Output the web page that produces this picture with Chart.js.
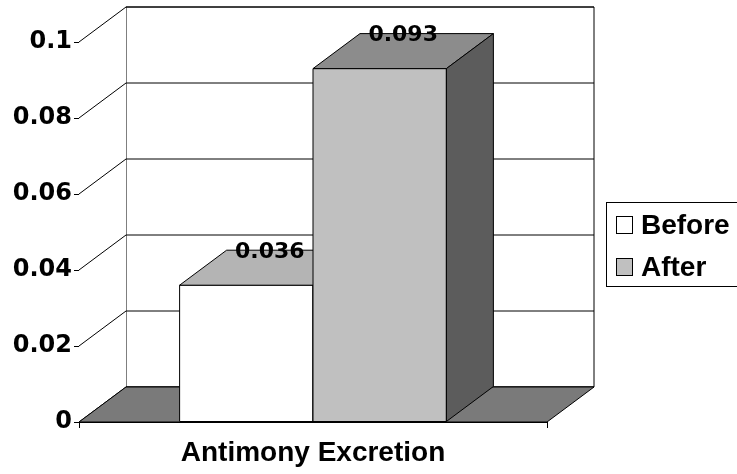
<!DOCTYPE html>
<html>
<head>
<meta charset="utf-8">
<script src="https://cdn.jsdelivr.net/npm/chart.js@4.4.1/dist/chart.umd.min.js"></script>
<style>
    html, body { margin: 0; padding: 0; background: #fff; }
    #contenedor { width: 737px; height: 474px; }
</style>
</head>
<body>
<div id="contenedor"><canvas id="graficaBarras"></canvas></div>
<script>
const categorias = ['Antimony Excretion'];
const series = ['Before', 'After'];
const valoresBefore = [0.036];
const valoresAfter = [0.093];
const etiquetasY = [0, 0.02, 0.04, 0.06, 0.08, 0.1];

// profundidad del efecto 3D (pixeles)
const DX = 47, DY = -35;
const colores = [
    { frente: '#ffffff', arriba: '#b4b4b4', lado: '#5c5c5c' },
    { frente: '#c0c0c0', arriba: '#8c8c8c', lado: '#5c5c5c' }
];
const fuente = '"Liberation Sans", Arial, sans-serif';
const fuenteNum = '"DejaVu Sans", sans-serif';

function poligono(ctx, pts, relleno) {
    ctx.beginPath();
    ctx.moveTo(pts[0][0], pts[0][1]);
    for (let i = 1; i < pts.length; i++) ctx.lineTo(pts[i][0], pts[i][1]);
    ctx.closePath();
    if (relleno) { ctx.fillStyle = relleno; ctx.fill(); }
    ctx.strokeStyle = '#000';
    ctx.lineWidth = 1;
    ctx.stroke();
}

const paredes3D = {
    id: 'paredes3D',
    beforeDatasetsDraw(chart) {
        const ctx = chart.ctx;
        const a = chart.chartArea;
        const y = chart.scales.y;
        ctx.save();
        // pared del fondo
        poligono(ctx, [[a.left + DX, a.top + DY], [a.right + DX, a.top + DY],
                       [a.right + DX, a.bottom + DY], [a.left + DX, a.bottom + DY]], '#fff');
        // pared izquierda
        ctx.fillStyle = '#fff';
        ctx.beginPath();
        ctx.moveTo(a.left, a.top); ctx.lineTo(a.left + DX, a.top + DY);
        ctx.lineTo(a.left + DX, a.bottom + DY); ctx.lineTo(a.left, a.bottom);
        ctx.closePath(); ctx.fill();
        // lineas de la cuadricula
        ctx.strokeStyle = '#000';
        ctx.lineWidth = 1;
        etiquetasY.forEach(function (v) {
            const py = y.getPixelForValue(v);
            ctx.beginPath();
            ctx.moveTo(a.left, py);
            ctx.lineTo(a.left + DX, py + DY);
            ctx.lineTo(a.right + DX, py + DY);
            ctx.stroke();
        });
        // piso
        poligono(ctx, [[a.left, a.bottom], [a.right, a.bottom],
                       [a.right + DX, a.bottom + DY], [a.left + DX, a.bottom + DY]], '#7a7a7a');
        ctx.restore();
    },
    afterDatasetsDraw(chart) {
        const ctx = chart.ctx;
        ctx.save();
        chart.data.datasets.forEach(function (ds, i) {
            const barra = chart.getDatasetMeta(i).data[0];
            const x0 = barra.x - barra.width / 2, x1 = barra.x + barra.width / 2;
            const top = barra.y, base = barra.base;
            poligono(ctx, [[x0, top], [x1, top], [x1, base], [x0, base]], colores[i].frente);
            poligono(ctx, [[x0, top], [x1, top], [x1 + DX, top + DY], [x0 + DX, top + DY]], colores[i].arriba);
            poligono(ctx, [[x1, top], [x1 + DX, top + DY], [x1 + DX, base + DY], [x1, base]], colores[i].lado);
        });
        chart.data.datasets.forEach(function (ds, i) {
            const barra = chart.getDatasetMeta(i).data[0];
            ctx.fillStyle = '#000';
            ctx.font = 'bold 22px ' + fuenteNum;
            ctx.textAlign = 'center';
            ctx.textBaseline = 'middle';
            ctx.fillText(String(ds.data[0]), barra.x + DX / 2, barra.y + DY + 2);
        });
        ctx.restore();
    },
    afterDraw(chart) {
        // leyenda con recuadro
        const ctx = chart.ctx;
        ctx.save();
        ctx.strokeStyle = '#000';
        ctx.lineWidth = 1;
        ctx.strokeRect(606.5, 202.5, 150, 84);
        ctx.font = 'bold 28px ' + fuente;
        ctx.textAlign = 'left';
        ctx.textBaseline = 'middle';
        const filas = [225, 267];
        chart.data.datasets.forEach(function (ds, i) {
            ctx.fillStyle = ds.backgroundColor;
            ctx.fillRect(616.5, filas[i] - 8.5, 16, 17);
            ctx.strokeRect(616.5, filas[i] - 8.5, 16, 17);
            ctx.fillStyle = '#000';
            ctx.fillText(ds.label, 641, filas[i] + 1);
        });
        ctx.restore();
    }
};

const ctx = document.getElementById('graficaBarras').getContext('2d');
new Chart(ctx, {
    type: 'bar',
    data: {
        labels: categorias,
        datasets: [{
            label: series[0],
            data: valoresBefore,
            backgroundColor: colores[0].frente,
            borderColor: '#000',
            borderWidth: 1
        }, {
            label: series[1],
            data: valoresAfter,
            backgroundColor: colores[1].frente,
            borderColor: '#000',
            borderWidth: 1
        }]
    },
    options: {
        responsive: true,
        maintainAspectRatio: false,
        animation: false,
        categoryPercentage: 0.57,
        barPercentage: 1,
        layout: { padding: { left: 0, top: 42, right: 190, bottom: 0 } },
        plugins: {
            legend: { display: false },
            tooltip: { enabled: false }
        },
        scales: {
            x: {
                grid: { offset: true, drawOnChartArea: false, tickLength: 6, color: '#000' },
                border: { color: '#000' },
                ticks: { color: '#000', font: { family: fuente, size: 28, weight: 'bold' }, padding: 8 },
                afterFit: function (s) { s.height = 52; }
            },
            y: {
                min: 0,
                max: 0.1,
                afterBuildTicks: function (s) { s.ticks = etiquetasY.map(v => ({ value: v })); },
                grid: { drawOnChartArea: false, tickLength: 5, color: '#000' },
                border: { color: '#000' },
                ticks: {
                    color: '#000',
                    font: { family: fuenteNum, size: 24, weight: 'bold' },
                    padding: 2,
                    callback: v => String(v)
                },
                afterFit: function (s) { s.width = 79; }
            }
        }
    },
    plugins: [paredes3D]
});
</script>
</body>
</html>
